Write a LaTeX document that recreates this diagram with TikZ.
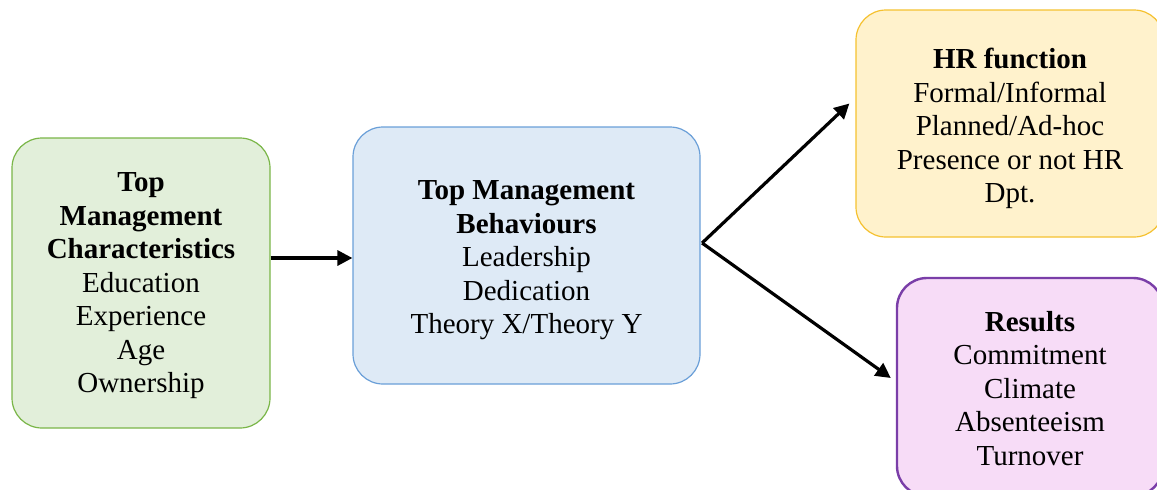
\documentclass[tikz,border=0pt]{standalone}
\usepackage{fontspec}
\setmainfont{Liberation Serif}
\usetikzlibrary{arrows.meta}

\definecolor{greenfill}{HTML}{E2EFDA}
\definecolor{greenline}{HTML}{7AB648}
\definecolor{bluefill}{HTML}{DEEAF6}
\definecolor{blueline}{HTML}{6A9FD8}
\definecolor{yellowfill}{HTML}{FFF2CC}
\definecolor{yellowline}{HTML}{F5C130}
\definecolor{pinkfill}{HTML}{F7DCF7}
\definecolor{pinkline}{HTML}{7A3EA8}

\tikzset{
  card/.style={rounded corners=30pt, inner sep=0pt},
  cardtext/.style={align=center, inner sep=0pt,
    font=\fontsize{29}{33.5}\selectfont},
  flow/.style={line width=3.2pt, -{Triangle[length=15pt,width=15pt]}}
}

\begin{document}
\begin{tikzpicture}[x=1pt, y=-1pt]
  \useasboundingbox (0,0) rectangle (1157,490);

  % the four stages
  \node[card, draw=greenline, fill=greenfill, line width=1.2pt,
        minimum width=258pt, minimum height=290pt] (chars) at (141,283) {};
  \node[cardtext] (charstext) at ([yshift=-3pt]chars.center)
    {\textbf{Top}\\\textbf{Management}\\\textbf{Characteristics}\\Education\\Experience\\Age\\Ownership};

  \node[card, draw=blueline, fill=bluefill, line width=1.2pt,
        minimum width=347pt, minimum height=257pt] (behav) at (526.5,255.5) {};
  \node[cardtext] (behavtext) at ([yshift=-5pt]behav.center)
    {\textbf{Top Management}\\\textbf{Behaviours}\\Leadership\\Dedication\\Theory X/Theory Y};

  \node[card, draw=yellowline, fill=yellowfill, line width=1.2pt,
        minimum width=308pt, minimum height=227pt] (hr) at (1010,123.5) {};
  \node[cardtext] (hrtext) at ([yshift=-5pt]hr.center)
    {\textbf{HR function}\\Formal/Informal\\Planned/Ad-hoc\\Presence or not HR\\Dpt.};

  \node[card, draw=pinkline, fill=pinkfill, line width=2.4pt,
        minimum width=266pt, minimum height=218pt] (res) at (1030,387) {};
  \node[cardtext] (restext) at ([yshift=-1.5pt]res.center)
    {\textbf{Results}\\Commitment\\Climate\\Absenteeism\\Turnover};

  % connectors
  \draw[flow] ([yshift=-2.5pt]chars.east |- behav.west) -- ([yshift=-2.5pt]behav.west);
  \coordinate (fork) at ([xshift=1.5pt,yshift=12.5pt]behav.east);
  \draw[flow] (fork) -- ([xshift=-6pt,yshift=20pt]hr.west);
  \draw[flow] (fork) -- ([xshift=-5pt,yshift=9pt]res.west);
\end{tikzpicture}
\end{document}
